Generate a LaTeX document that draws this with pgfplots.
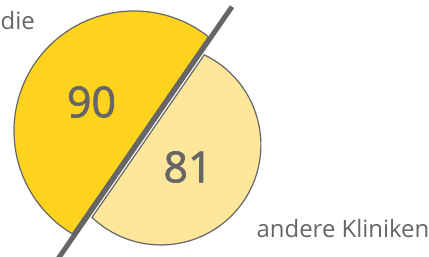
\documentclass[border=0pt]{standalone}
\usepackage{pgfplots}
\pgfplotsset{compat=1.18}
\usepackage{fontspec}
\setmainfont{Open Sans}
\newfontfamily\numfont{Open Sans}[FakeBold=1.6]
\definecolor{cyel}{HTML}{FDD31D}
\definecolor{clight}{HTML}{FEE69A}
\definecolor{cgray}{HTML}{666666}
\begin{document}
\begin{tikzpicture}
\begin{axis}[scale only axis, width=429bp, height=257bp,
  xmin=0, xmax=429, ymin=0, ymax=257, hide axis, clip=false]
% light segment (andere Kliniken)
\filldraw[fill=clight, draw=cgray, line width=1.2bp]
  (axis cs:92.0,39.6) arc[start angle=226.44, end angle=424.28, radius=100bp] -- cycle;
% yellow segment
\filldraw[fill=cyel, draw=cgray, line width=1.2bp]
  (axis cs:208.4,220.2) arc[start angle=51.68, end angle=239.04, radius=120bp] -- cycle;
% dividing line
\draw[cgray, line width=5bp] (axis cs:232,250.3) -- (axis cs:52.4,-10);
\addplot[draw=none, mark=none, nodes near coords, point meta=explicit symbolic,
  nodes near coords style={anchor=center, inner sep=0pt, font=\numfont\fontsize{43}{43}\selectfont, text=cgray}]
  coordinates {(91.5,155) [90] (188,90) [81]};
\node[anchor=base west, inner sep=0pt, text=cgray, font=\fontsize{24}{24}\selectfont] at (axis cs:256.5,19.7) {andere Kliniken};
\node[anchor=base west, inner sep=0pt, text=cgray, font=\fontsize{24}{24}\selectfont] at (axis cs:0.5,227) {die};
\end{axis}
\pgfresetboundingbox
\path (0,0) rectangle (429bp,257bp);
\end{tikzpicture}
\end{document}
